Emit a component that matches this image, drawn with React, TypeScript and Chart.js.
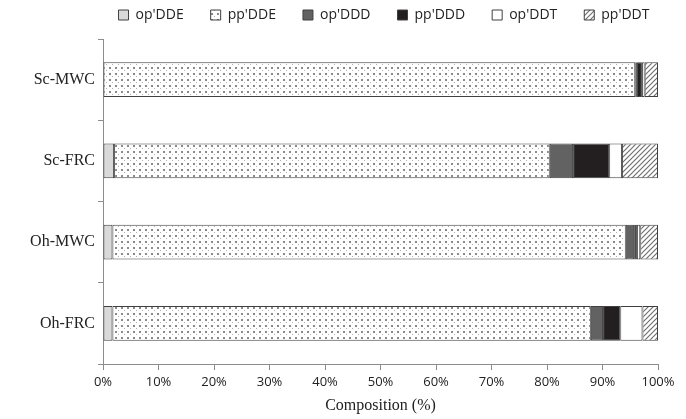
import React, { useEffect, useRef } from "react";
import { Chart, registerables } from "chart.js";

Chart.register(...registerables);

const categories = ["Sc-MWC", "Sc-FRC", "Oh-MWC", "Oh-FRC"];
const seriesNames = ["op'DDE", "pp'DDE", "op'DDD", "pp'DDD", "op'DDT", "pp'DDT"];
const opDDE = [0, 2.0, 1.7, 1.7];
const ppDDE = [95.9, 78.5, 92.5, 86.2];
const opDDD = [0.3, 4.2, 1.5, 2.2];
const ppDDD = [0.9, 6.5, 0.5, 3.1];
const opDDT = [0.5, 2.3, 0.6, 4.0];
const ppDDT = [2.4, 6.5, 3.2, 2.8];
const xTicks = [0, 10, 20, 30, 40, 50, 60, 70, 80, 90, 100];

function dotPattern(): CanvasPattern | string {
  const c = document.createElement("canvas");
  c.width = 6;
  c.height = 6;
  const g = c.getContext("2d");
  if (!g) return "#eee";
  g.fillStyle = "#ffffff";
  g.fillRect(0, 0, 6, 6);
  g.fillStyle = "#8a8a8a";
  g.fillRect(1, 1, 2, 2);
  g.fillStyle = "#b0b0b0";
  g.fillRect(4, 4, 1, 1);
  const p = g.createPattern(c, "repeat");
  return p || "#eee";
}

function hatchPattern(): CanvasPattern | string {
  const s = 5;
  const c = document.createElement("canvas");
  c.width = s;
  c.height = s;
  const g = c.getContext("2d");
  if (!g) return "#ccc";
  g.fillStyle = "#ffffff";
  g.fillRect(0, 0, s, s);
  g.strokeStyle = "#707070";
  g.lineWidth = 1.2;
  g.beginPath();
  g.moveTo(0, s);
  g.lineTo(s, 0);
  g.moveTo(-1, 1);
  g.lineTo(1, -1);
  g.moveTo(s - 1, s + 1);
  g.lineTo(s + 1, s - 1);
  g.stroke();
  const p = g.createPattern(c, "repeat");
  return p || "#ccc";
}

const legendShift = {
  id: "legendShift",
  afterLayout(chart: any) {
    const lg = chart.legend;
    if (!lg) return;
    const dx = 55;
    const dy = -7;
    lg.left += dx;
    lg.right += dx;
    lg.top += dy;
    lg.bottom += dy;
  },
};

export default function App() {
  const ref = useRef<HTMLCanvasElement | null>(null);

  useEffect(() => {
    document.body.style.margin = "0";
    const canvas = ref.current;
    if (!canvas) return;
    const fills = [
      "#d9d9d9",
      dotPattern(),
      "#626262",
      "#231f20",
      "#ffffff",
      hatchPattern(),
    ];
    const values = [opDDE, ppDDE, opDDD, ppDDD, opDDT, ppDDT];
    const chart = new Chart(canvas, {
      type: "bar",
      data: {
        labels: categories,
        datasets: seriesNames.map((name, i) => ({
          label: name,
          data: values[i],
          backgroundColor: fills[i] as any,
          borderColor: "#404040",
          borderWidth: 1,
          borderSkipped: false,
          barPercentage: 0.43,
          categoryPercentage: 1,
        })),
      },
      plugins: [legendShift],
      options: {
        indexAxis: "y",
        responsive: false,
        animation: false,
        layout: { padding: { top: -12, right: 28, bottom: 4, left: 0 } },
        plugins: {
          tooltip: { enabled: false },
          legend: {
            position: "top",
            labels: {
              boxWidth: 10,
              boxHeight: 10,
              padding: 27,
              color: "#222",
              font: { family: "'Open Sans'", size: 14 },
            },
          },
        },
        scales: {
          x: {
            stacked: true,
            min: 0,
            max: 100,
            afterBuildTicks: (scale: any) => {
              scale.ticks = xTicks.map((v) => ({ value: v }));
            },
            afterFit: (scale: any) => {
              scale.height = 51;
            },
            ticks: {
              callback: (v: any) => v + "%",
              color: "#222",
              font: { family: "'Open Sans'", size: 13 },
              padding: 4,
              maxRotation: 0,
            },
            grid: {
              drawOnChartArea: false,
              drawTicks: true,
              tickLength: 6,
              color: "#8c8c8c",
            },
            border: { display: true, color: "#8c8c8c", width: 1 },
            title: {
              display: true,
              text: "Composition (%)",
              color: "#222",
              font: { family: "'Liberation Serif'", size: 16 },
              padding: { top: 4, bottom: 0 },
            },
          },
          y: {
            stacked: true,
            afterFit: (scale: any) => {
              scale.width = 103;
            },
            ticks: {
              color: "#222",
              font: { family: "'Liberation Serif'", size: 16 },
              padding: 3,
            },
            grid: {
              offset: true,
              drawOnChartArea: false,
              drawTicks: true,
              tickLength: 5,
              color: "#8c8c8c",
            },
            border: { display: true, color: "#8c8c8c", width: 1 },
          },
        },
      },
    });
    return () => chart.destroy();
  }, []);

  return <canvas ref={ref} width={686} height={419} style={{ display: "block" }} />;
}
